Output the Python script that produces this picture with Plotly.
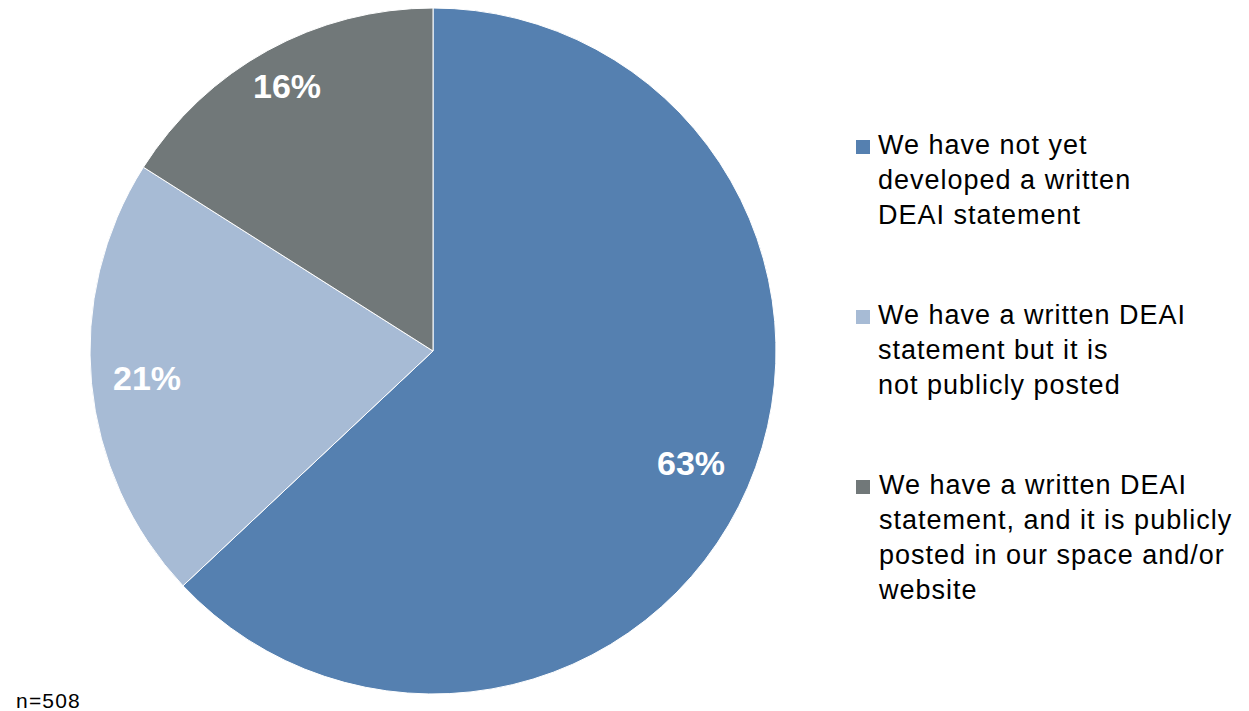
import math
import plotly.graph_objects as go

# Survey responses: status of a written DEAI statement
labels = [
    "We have not yet<br>developed a written<br>DEAI statement",
    "We have a written DEAI<br>statement but it is<br>not publicly posted",
    "We have a written DEAI<br>statement, and it is publicly<br>posted in our space and/or<br>website",
]
values = [63, 21, 16]
colors = ["#5580B0", "#A7BBD5", "#717879"]
sample_note = "n=508"

W, H = 1249, 711
cx, cy, r = 433, 351, 343  # pie centre and radius in pixels

fig = go.Figure()
fig.add_trace(go.Pie(
    labels=labels,
    values=values,
    sort=False,
    direction="clockwise",
    rotation=0,
    marker=dict(colors=colors, line=dict(color="white", width=1)),
    textinfo="none",
    hoverinfo="label+percent",
    showlegend=False,
    domain=dict(x=[(cx - r) / W, (cx + r) / W], y=[(H - cy - r) / H, (H - cy + r) / H]),
))

# Percentage labels placed along each slice's mid-angle
label_radius = [0.82, 0.837, 0.883]
total = sum(values)
cum = 0
for v, rf in zip(values, label_radius):
    mid = (cum + v / 2) / total * 2 * math.pi
    cum += v
    px = cx + rf * r * math.sin(mid)
    py = cy - rf * r * math.cos(mid)
    fig.add_annotation(
        x=px / W, y=1 - py / H, xref="paper", yref="paper",
        text=f"<b>{round(v / total * 100)}%</b>", showarrow=False,
        font=dict(family="Liberation Sans, Arial", size=34, color="white"),
        xanchor="center", yanchor="middle",
    )

# Legend: coloured squares with wrapped, slightly tracked text
legend_tops = [132, 302, 472]
for lab, col, top in zip(labels, colors, legend_tops):
    fig.add_shape(
        type="rect", xref="paper", yref="paper",
        x0=856 / W, x1=870 / W, y0=1 - (top + 8) / H, y1=1 - (top + 22) / H,
        fillcolor=col, line=dict(width=0),
    )
    spaced = "<br>".join(
        f'<span style="letter-spacing:1px">{line}</span>' for line in lab.split("<br>")
    )
    fig.add_annotation(
        x=876 / W, y=1 - (top - 4) / H, xref="paper", yref="paper",
        text=spaced, showarrow=False, align="left",
        xanchor="left", yanchor="top",
        font=dict(family="Liberation Sans, Arial", size=27, color="black"),
    )

fig.add_annotation(
    x=14 / W, y=1 - 700 / H, xref="paper", yref="paper",
    text=f'<span style="letter-spacing:1.2px">{sample_note}</span>',
    showarrow=False, xanchor="left", yanchor="middle",
    font=dict(family="Liberation Sans, Arial", size=21, color="black"),
)

fig.update_layout(
    width=W, height=H,
    margin=dict(l=0, r=0, t=0, b=0),
    paper_bgcolor="white", plot_bgcolor="white",
)

fig.write_html("out.html")
